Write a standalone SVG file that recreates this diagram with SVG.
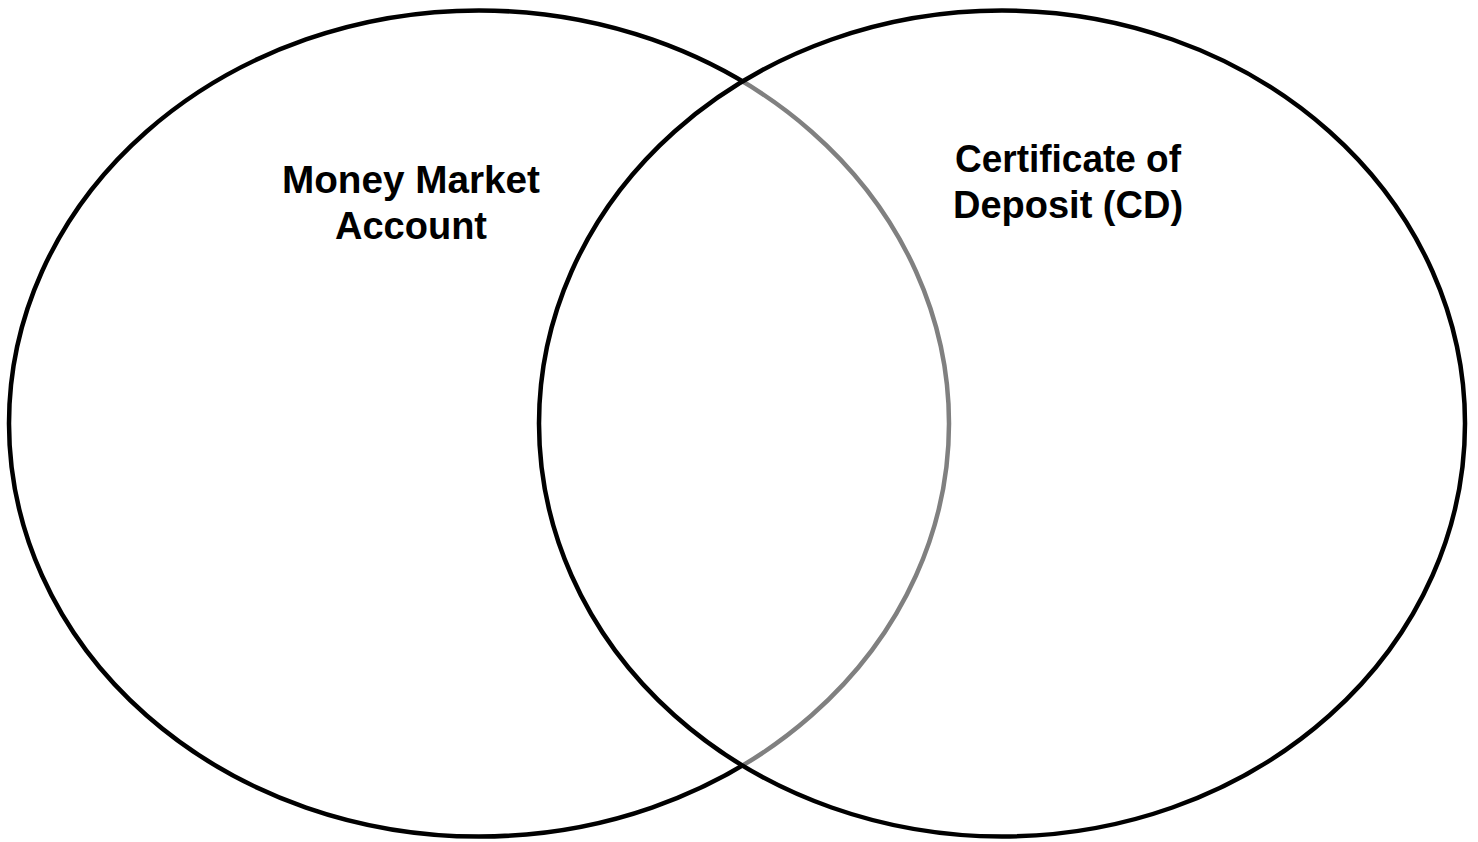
<svg xmlns="http://www.w3.org/2000/svg" width="1478" height="842" viewBox="0 0 1478 842">
<style>
.circle{stroke:#000;stroke-width:4.5}
.lbl{font-family:"Liberation Sans",Arial,sans-serif;font-weight:bold;font-size:38px;fill:#000;text-anchor:middle}
</style>
<rect width="1478" height="842" fill="#fff"/>
<g id="left-set">
<ellipse class="circle" cx="479" cy="423.5" rx="470" ry="413" fill="#fff"/>
<text class="lbl" x="411" y="193" textLength="258" lengthAdjust="spacingAndGlyphs">Money Market</text>
<text class="lbl" x="411" y="239">Account</text>
</g>
<g id="right-set">
<ellipse class="circle" cx="1002" cy="423.5" rx="463" ry="413" fill="#fff" fill-opacity="0.5"/>
<text class="lbl" x="1068" y="172" textLength="226" lengthAdjust="spacingAndGlyphs">Certificate of</text>
<text class="lbl" x="1068" y="218">Deposit (CD)</text>
</g>
</svg>
